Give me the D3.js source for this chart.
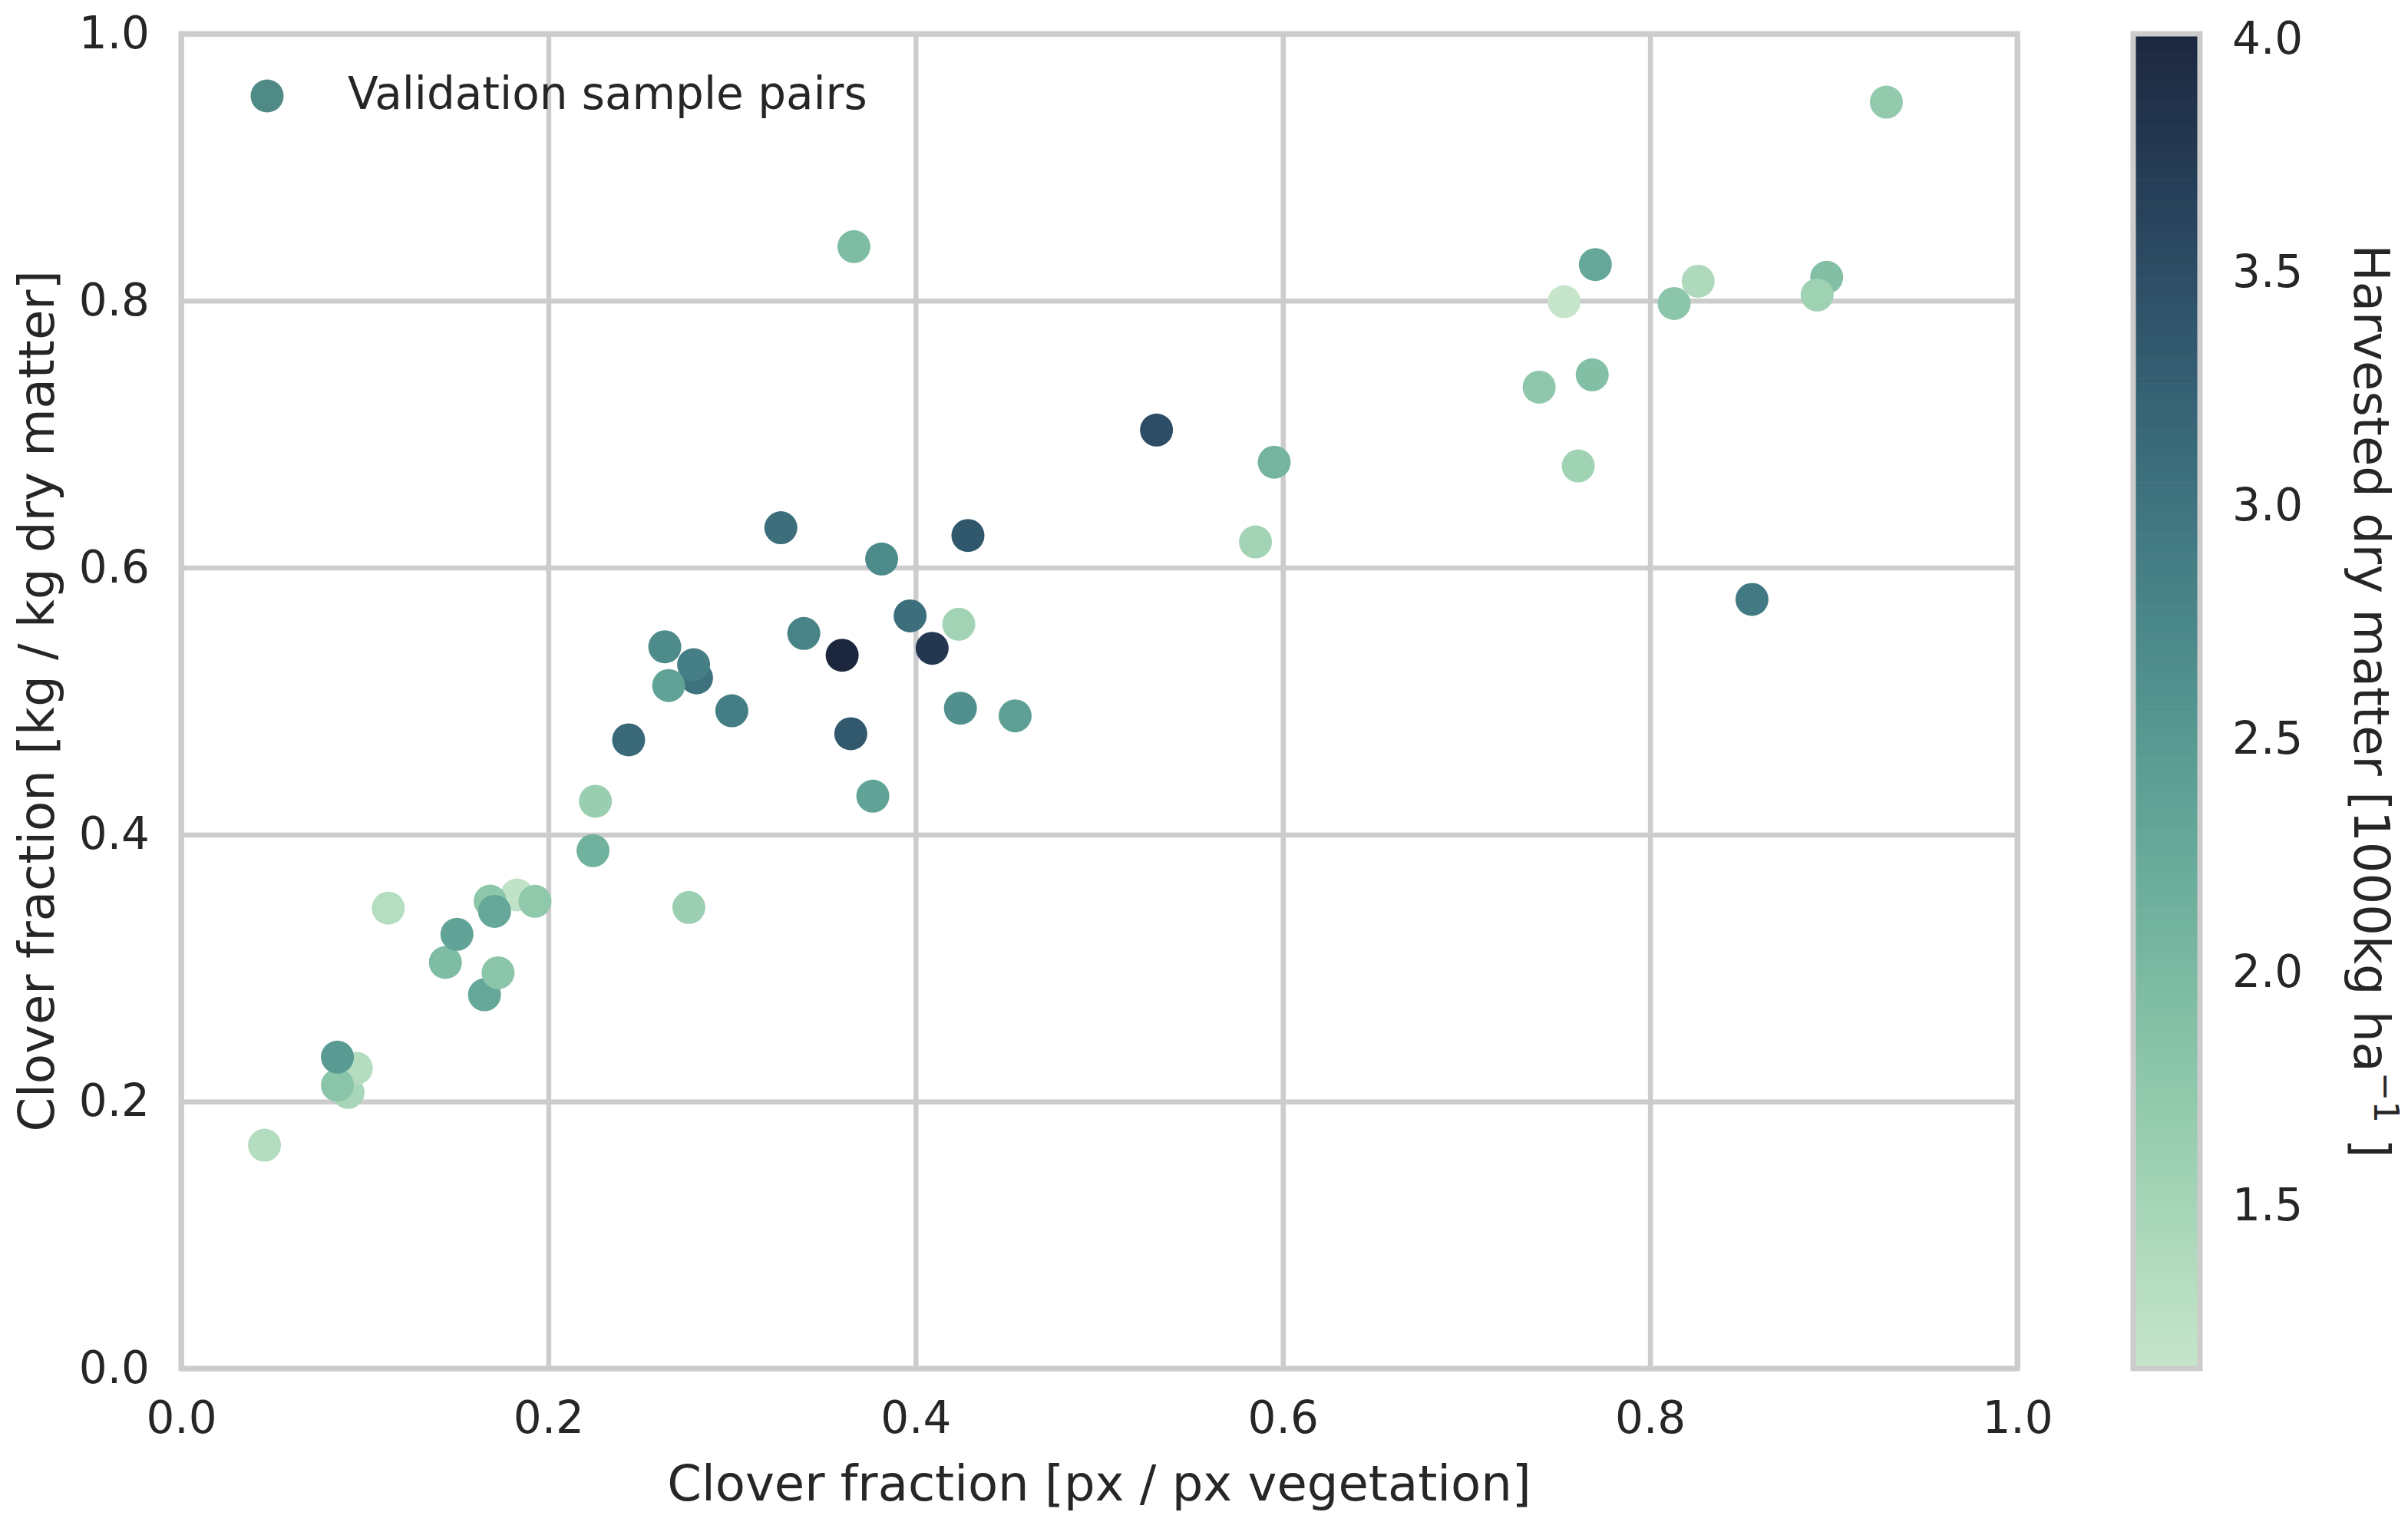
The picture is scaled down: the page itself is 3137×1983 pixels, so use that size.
<!DOCTYPE html>
<html>
<head>
<meta charset="UTF-8" />
<title>Clover fraction validation</title>
<script src="https://d3js.org/d3.v7.min.js"></script>
<style>
  body { margin: 0; background: #fff; }
  svg { display: block; font-family: "DejaVu Sans", sans-serif; }
</style>
</head>
<body>
<svg id="chart" width="3137" height="1983"></svg>
<script>
// clover fraction from the image (px / px vegetation), draw order
const pxFraction = [
  0.0454, 0.0909, 0.0954, 0.0851, 0.0851, 0.1128, 0.1439, 0.1502, 0.1652, 0.1726,
  0.1829, 0.1683, 0.1927, 0.1707, 0.2243, 0.2256, 0.2765, 0.2437, 0.2634, 0.2807,
  0.2791, 0.2655, 0.2999, 0.3266, 0.3391, 0.3600, 0.3647, 0.3767, 0.3815, 0.3664,
  0.3970, 0.4235, 0.4090, 0.4285, 0.4244, 0.4542, 0.5312, 0.5851, 0.5953, 0.7396,
  0.7609, 0.7685, 0.7532, 0.7702, 0.8262, 0.8131, 0.8555, 0.8962, 0.8910, 0.9287
];
// clover fraction from the harvested sample (kg / kg dry matter)
const kgFraction = [
  0.1673, 0.2068, 0.2250, 0.2122, 0.2333, 0.3449, 0.3042, 0.3253, 0.2800, 0.2965,
  0.3548, 0.3502, 0.3500, 0.3425, 0.3880, 0.4250, 0.3454, 0.4710, 0.5407, 0.5174,
  0.5273, 0.5117, 0.4928, 0.6299, 0.5507, 0.5344, 0.4756, 0.4288, 0.6065, 0.8405,
  0.5639, 0.5576, 0.5396, 0.6241, 0.4947, 0.4890, 0.7031, 0.6193, 0.6790, 0.7352,
  0.6762, 0.7445, 0.7993, 0.8271, 0.8146, 0.7979, 0.5762, 0.8175, 0.8043, 0.9488
];
// harvested dry matter [1000kg ha-1]
const dryMatter = [
  1.34, 1.47, 1.35, 1.80, 2.48, 1.33, 1.95, 2.35, 2.30, 1.78,
  1.22, 1.77, 1.75, 2.30, 2.12, 1.62, 1.60, 3.12, 2.68, 3.02,
  2.86, 2.37, 2.88, 3.08, 2.80, 4.01, 3.36, 2.35, 2.70, 1.95,
  3.08, 1.52, 3.78, 3.37, 2.62, 2.40, 3.50, 1.52, 2.07, 1.76,
  1.56, 1.90, 1.15, 2.30, 1.40, 1.78, 2.93, 1.90, 1.57, 1.70
];

const xTicks = [0, 0.2, 0.4, 0.6, 0.8, 1.0];
const yTicks = [0, 0.2, 0.4, 0.6, 0.8, 1.0];
const cbarTicks = [1.5, 2.0, 2.5, 3.0, 3.5, 4.0];

const legendLabel = 'Validation sample pairs';
const xLabel = 'Clover fraction [px / px vegetation]';
const yLabel = 'Clover fraction [kg / kg dry matter]';

const GRID = '#cccccc', INK = '#262626';
const plotL = 236, plotR = 2628, plotT = 44, plotB = 1783;

// seaborn cubehelix_palette(start=0, rot=-.4, as_cmap=True), 256 steps
function cubehelix(v) {
  const start = 0, rot = -0.4, hue = 0.8;
  const a = hue * v * (1 - v) / 2;
  const phi = 2 * Math.PI * (start / 3 + rot * v);
  const c = Math.cos(phi), s = Math.sin(phi);
  const cl = u => Math.max(0, Math.min(1, u)) * 255;
  return d3.rgb(
    cl(v + a * (-0.14861 * c + 1.78277 * s)),
    cl(v + a * (-0.29227 * c - 0.90649 * s)),
    cl(v + a * (1.97294 * c))
  ).formatHex();
}
function cmap(t) {
  const i = Math.max(0, Math.min(255, Math.floor(t * 256)));
  return cubehelix(0.85 - 0.7 * i / 255);
}

const cExtent = d3.extent(dryMatter);
const norm = d3.scaleLinear().domain(cExtent).range([0, 1]).clamp(true);

const svg = d3.select('#chart');
const x = d3.scaleLinear().domain([0, 1]).range([plotL, plotR]);
const y = d3.scaleLinear().domain([0, 1]).range([plotB, plotT]);

// grid + tick labels
const xAxis = svg.append('g').attr('transform', `translate(0,${plotB})`)
  .call(d3.axisBottom(x).tickValues(xTicks).tickFormat(d3.format('.1f'))
    .tickSize(-(plotB - plotT)).tickPadding(43));
const yAxis = svg.append('g').attr('transform', `translate(${plotL},0)`)
  .call(d3.axisLeft(y).tickValues(yTicks).tickFormat(d3.format('.1f'))
    .tickSize(-(plotR - plotL)).tickPadding(41));
[xAxis, yAxis].forEach(ax => {
  ax.select('.domain').remove();
  ax.selectAll('line').attr('stroke', GRID).attr('stroke-width', 6.5);
  ax.selectAll('text').attr('fill', INK).style('font-size', '58px')
    .style('font-family', '"DejaVu Sans", sans-serif');
});

// points
svg.append('g').selectAll('circle')
  .data(d3.range(pxFraction.length))
  .join('circle')
  .attr('cx', i => x(pxFraction[i]))
  .attr('cy', i => y(kgFraction[i]))
  .attr('r', 21.5)
  .attr('fill', i => cmap(norm(dryMatter[i])));

// spines
svg.append('rect')
  .attr('x', plotL).attr('y', plotT)
  .attr('width', plotR - plotL).attr('height', plotB - plotT)
  .attr('fill', 'none').attr('stroke', GRID).attr('stroke-width', 7);

// legend
svg.append('circle').attr('cx', 348).attr('cy', 125).attr('r', 21.5).attr('fill', '#4f8a87');
svg.append('text').attr('x', 453).attr('y', 142)
  .attr('fill', INK).style('font-size', '58px').text(legendLabel);

// axis labels
svg.append('text').attr('x', (plotL + plotR) / 2).attr('y', 1955)
  .attr('text-anchor', 'middle').attr('fill', INK).style('font-size', '64px')
  .text(xLabel);
svg.append('text')
  .attr('transform', `translate(70,${(plotT + plotB) / 2}) rotate(-90)`)
  .attr('text-anchor', 'middle').attr('fill', INK).style('font-size', '64px')
  .text(yLabel);

// colorbar
const cbLeft = 2779, cbRight = 2866;
const cbScale = d3.scaleLinear().domain(cExtent).range([plotB, plotT]);
const steps = d3.range(256);
const stepH = (plotB - plotT) / 256;
svg.append('g').selectAll('rect')
  .data(steps)
  .join('rect')
  .attr('x', cbLeft)
  .attr('y', i => plotB - (i + 1) * stepH)
  .attr('width', cbRight - cbLeft)
  .attr('height', stepH + 0.6)
  .attr('fill', i => cmap(i / 256));
svg.append('rect')
  .attr('x', cbLeft).attr('y', plotT)
  .attr('width', cbRight - cbLeft).attr('height', plotB - plotT)
  .attr('fill', 'none').attr('stroke', GRID).attr('stroke-width', 7);
svg.append('g').selectAll('text')
  .data(cbarTicks)
  .join('text')
  .attr('x', 2908)
  .attr('y', d => cbScale(d))
  .attr('dy', '0.35em')
  .attr('fill', INK).style('font-size', '58px')
  .text(d => d3.format('.1f')(d));

const cbLabel = svg.append('text')
  .attr('transform', `translate(3067,${(plotT + plotB) / 2}) rotate(90)`)
  .attr('text-anchor', 'middle').attr('fill', INK).style('font-size', '64px');
cbLabel.append('tspan').text('Harvested dry matter [1000kg ha');
cbLabel.append('tspan').attr('dy', -26).style('font-size', '45px').text('\u22121');
cbLabel.append('tspan').attr('dy', 26).text(' ]');
</script>
</body>
</html>
